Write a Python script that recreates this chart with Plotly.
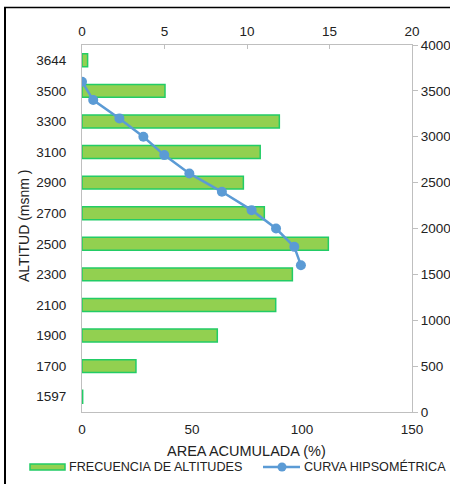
import plotly.graph_objects as go

# Altitude classes (msnm), bottom to top
altitudes = ["1597", "1700", "1900", "2100", "2300", "2500",
             "2700", "2900", "3100", "3300", "3500", "3644"]
# Frequency of altitudes (% of basin area) for each class
frecuencia = [0.04, 3.27, 8.2, 11.74, 12.75, 14.93,
              11.05, 9.78, 10.8, 11.96, 5.03, 0.34]

# Hypsometric curve: cumulative area (%) vs altitude (msnm)
area_acumulada = [0, 5.1, 17.0, 27.9, 37.4, 48.8, 63.6, 77.1, 88.2, 96.5, 99.5]
altitud_curva = [3600, 3400, 3200, 3000, 2800, 2600, 2400, 2200, 2000, 1800, 1600]

BAR_FILL = "#92D050"
BAR_EDGE = "#22CC66"
LINE_COL = "#5B9BD5"
AXIS_COL = "#BFBFBF"
FONT = "Liberation Sans, Arial, sans-serif"

W, H = 450, 484
L, R, T, B = 82, 38, 45, 72
PW, PH = W - L - R, H - T - B


def px_x(px):
    return (px - L) / PW


def px_y(py):
    return (H - B - py) / PH


fig = go.Figure()

fig.add_trace(go.Bar(
    y=altitudes, x=frecuencia, orientation="h",
    xaxis="x", yaxis="y",
    marker=dict(color=BAR_FILL, line=dict(color=BAR_EDGE, width=1.5)),
    name="FRECUENCIA DE ALTITUDES", showlegend=False,
))

fig.add_trace(go.Scatter(
    x=area_acumulada, y=altitud_curva,
    xaxis="x2", yaxis="y2", mode="lines+markers",
    line=dict(color=LINE_COL, width=2.5),
    marker=dict(color=LINE_COL, size=10),
    name="CURVA HIPSOMÉTRICA", showlegend=False,
))

tickfont = dict(family=FONT, size=13.5, color="#222222")

fig.update_layout(
    width=W, height=H,
    margin=dict(l=L, r=R, t=T, b=B),
    paper_bgcolor="white", plot_bgcolor="white",
    font=dict(family=FONT, size=13, color="#222222"),
    bargap=0.58,
    xaxis=dict(
        side="top", range=[0, 20], dtick=5, anchor="y",
        showgrid=False, zeroline=False, showline=True, linecolor=AXIS_COL,
        ticks="inside", ticklen=4, tickcolor=AXIS_COL, ticklabelstandoff=3,
        tickfont=tickfont, automargin=False,
    ),
    yaxis=dict(
        type="category", side="left", anchor="x",
        showgrid=False, zeroline=False, showline=True, linecolor=AXIS_COL,
        ticks="", ticklabelstandoff=12,
        tickfont=tickfont, automargin=False,
    ),
    xaxis2=dict(
        overlaying="x", side="bottom", anchor="y2", range=[0, 150], dtick=50,
        showgrid=False, zeroline=False, showline=True, linecolor=AXIS_COL,
        ticks="", ticklabelstandoff=5,
        tickfont=tickfont, automargin=False,
    ),
    yaxis2=dict(
        overlaying="y", side="right", anchor="x2", range=[0, 4000], dtick=500,
        showgrid=False, zeroline=False, showline=True, linecolor=AXIS_COL,
        ticks="outside", ticklen=5, tickcolor=AXIS_COL,
        tickfont=tickfont, automargin=False,
    ),
)

# Axis titles
fig.add_annotation(
    text="ALTITUD (msnm )", textangle=-90, showarrow=False,
    xref="paper", yref="paper", x=px_x(24), y=px_y(226),
    xanchor="center", yanchor="middle", font=dict(size=14),
)
fig.add_annotation(
    text="AREA ACUMULADA (%)", showarrow=False,
    xref="paper", yref="paper", x=px_x(246), y=px_y(451),
    xanchor="center", yanchor="middle", font=dict(size=14.5),
)

# Legend
leg_y = px_y(467)
fig.add_shape(
    type="rect", xref="paper", yref="paper",
    x0=px_x(30), x1=px_x(65), y0=px_y(470), y1=px_y(464),
    fillcolor=BAR_FILL, line=dict(color=BAR_EDGE, width=1.5),
)
fig.add_annotation(
    text="FRECUENCIA DE ALTITUDES", showarrow=False,
    xref="paper", yref="paper", x=px_x(67), y=leg_y,
    xanchor="left", yanchor="middle", font=dict(size=12.6),
)
fig.add_shape(
    type="line", xref="paper", yref="paper",
    x0=px_x(263), x1=px_x(300), y0=leg_y, y1=leg_y,
    line=dict(color=LINE_COL, width=2.5),
)
fig.add_shape(
    type="circle", xref="paper", yref="paper",
    x0=px_x(277.5), x1=px_x(286.5), y0=px_y(471.5), y1=px_y(462.5),
    fillcolor=LINE_COL, line=dict(color=LINE_COL, width=0),
)
fig.add_annotation(
    text="CURVA HIPSOMÉTRICA", showarrow=False,
    xref="paper", yref="paper", x=px_x(302), y=leg_y,
    xanchor="left", yanchor="middle", font=dict(size=12.6),
)

# Outer frame lines (left and top)
fig.add_shape(
    type="line", xref="paper", yref="paper",
    x0=px_x(5), x1=px_x(5), y0=px_y(7.5), y1=px_y(H + 5),
    line=dict(color="black", width=2),
)
fig.add_shape(
    type="line", xref="paper", yref="paper",
    x0=px_x(4), x1=px_x(W + 5), y0=px_y(7.5), y1=px_y(7.5),
    line=dict(color="black", width=1.5),
)

fig.write_html("out.html")
